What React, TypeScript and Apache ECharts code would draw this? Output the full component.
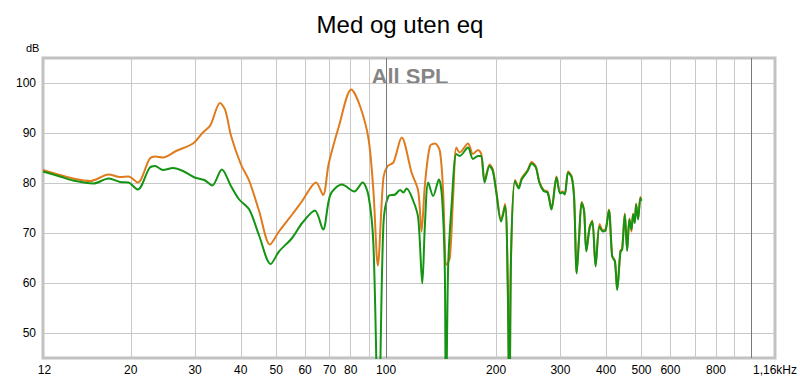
import React, { useEffect, useRef } from 'react';
import * as echarts from 'echarts';

const orangeFreq = [
  11.5, 12.8, 13.9, 15.5, 17.4, 18.7, 19.7, 20.9, 22.5, 23.3, 24.5, 26.6, 29.6, 31.5, 33.0, 35.1, 36.3, 37.6,
  40.0, 42.2, 44.9, 48.1, 50.9, 55.3, 58.9, 64.3, 67.2, 69.6, 74.1, 80.3, 85.0, 89.5, 92.3, 94.9, 98.3, 101,
  104.7, 110.3, 117.4, 122.4, 125.0, 127.7, 131.8, 136.0, 140.3, 143.2, 146.2, 149.4, 152.5, 155.7, 159.0,
  167.5, 172.9, 178.4, 182.1, 186.0, 191.9, 195.9, 200.0, 206.4, 211.6, 215.2, 217.6, 219.7, 225.3, 230.6,
  235.0, 244.0, 250.2, 257.0, 262.6, 269.8, 276.6, 283.6, 292.7, 299.5, 303.9, 308.3, 314.9, 322.1, 327.0,
  332.4, 337.4, 342.9, 348.2, 353.2, 360.6, 366.8, 374.4, 383.9, 392.2, 398.7, 407.2, 415.7, 422.9, 429.0,
  438.0, 442.6, 450.2, 456.8, 463.4, 469.3, 474.3, 479.3, 483.3, 489.4, 496.5, 499.6,
];
const orangeDb = [
  82.6, 81.6, 80.9, 80.4, 81.7, 81.2, 81.3, 80.1, 84.8, 85.3, 85.1, 86.4, 87.9, 90.1, 91.5, 96.0, 94.5, 89.5,
  83.8, 80.4, 74.4, 67.7, 70.3, 73.7, 76.4, 80.1, 77.6, 83.8, 91.1, 98.7, 95.2, 88.8, 78.4, 63.5, 81.1, 83.4,
  84.1, 89.1, 82.1, 78.4, 70.3, 79.7, 87.4, 87.9, 86.4, 78.4, 63.6, 65.0, 77.0, 87.1, 86.1,
  87.9, 85.8, 86.6, 85.8, 80.5, 83.7, 82.7, 78.7, 72.6, 75.8, 60.0, 30.0, 65.2, 80.6, 79.2,
  81.0, 82.6, 84.2, 83.3, 80.3, 78.6, 78.3, 74.9, 81.3, 78.1, 78.3, 77.9, 82.3, 81.3, 77.2,
  62.1, 69.2, 76.2, 74.6, 66.5, 71.2, 72.5, 63.5, 71.8, 70.6, 70.7, 74.7, 65.5, 64.5, 58.8,
  66.5, 66.8, 73.9, 66.6, 72.9, 70.3, 73.9, 72.2, 75.9, 72.9, 77.2, 76.6,
];

const greenFreq = [
  11.5, 12.8, 13.9, 15.8, 17.4, 18.7, 19.7, 20.9, 22.5, 23.3, 24.5, 26.1, 27.8, 29.9, 31.8, 33.4, 35.5, 37.6,
  39.6, 42.2, 44.9, 48.3, 50.9, 55.3, 58.9, 63.8, 67.2, 70.4, 75.7, 81.8, 86.2, 89.5, 92.3, 95.3, 98.3, 101.5,
  105.8, 109.2, 111.5, 113.8, 118.7, 122.4, 125.6, 127.7, 130.4, 134.5, 139.4, 142.3, 144.8, 145.7, 147.8,
  150.9, 155.7, 159.0, 167.5, 172.9, 178.4, 182.1, 186.0, 191.9, 195.9, 200.0, 206.4, 211.6, 215.2, 217.6,
  219.7, 225.3, 230.6, 235.0, 244.0, 250.2, 257.0, 262.6, 269.8, 276.6, 283.6, 292.7, 299.5, 303.9, 308.3,
  314.9, 322.1, 327.0, 332.4, 337.4, 342.9, 348.2, 353.2, 360.6, 366.8, 374.4, 383.9, 392.2, 398.7, 407.2,
  415.7, 422.9, 429.0, 438.0, 442.6, 450.2, 456.8, 463.4, 469.3, 474.3, 479.3, 483.3, 489.4, 496.5, 499.6,
];
const greenDb = [
  82.3, 81.3, 80.5, 79.9, 80.9, 80.2, 80.1, 78.7, 83.0, 83.4, 82.6, 83.0, 82.4, 81.1, 80.6, 79.5, 82.7, 79.4,
  76.7, 74.7, 69.5, 63.8, 66.3, 69.0, 72.0, 74.5, 70.7, 77.7, 79.7, 78.3, 80.1, 77.4, 67.7, 30.0, 71.7, 77.4,
  77.7, 78.6, 78.1, 78.9, 76.4, 73.0, 59.9, 71.7, 80.1, 77.4, 80.7, 77.0, 62.0, 30.0, 63.0,
  75.0, 85.8, 85.4, 87.1, 84.8, 85.4, 85.4, 80.1, 83.4, 82.4, 78.4, 72.3, 75.4, 60.0, 30.0,
  65.0, 80.4, 78.9, 80.7, 82.4, 83.9, 83.1, 80.1, 78.4, 78.1, 74.7, 81.1, 77.9, 78.1, 77.7,
  82.1, 81.1, 77.0, 61.9, 69.0, 76.0, 74.4, 66.3, 71.0, 72.3, 63.3, 71.3, 70.3, 70.5, 74.5,
  65.3, 64.3, 58.6, 66.3, 66.6, 73.7, 66.4, 72.7, 70.7, 73.7, 72.0, 75.7, 72.7, 77.0, 76.4,
];

const xGridFreqs = [20, 30, 40, 50, 60, 70, 80, 90, 100, 200, 300, 400, 500, 600, 700, 800, 900, 1000];
const xMajorFreqs = [100, 1000];
const xLabelFreqs = [11.6, 20, 30, 40, 50, 60, 70, 80, 100, 200, 300, 400, 500, 600, 800, 1160];
const xLabelTexts = ['12', '20', '30', '40', '50', '60', '70', '80', '100', '200', '300', '400', '500', '600', '800', '1,16kHz'];
const yTicks = [50, 60, 70, 80, 90, 100];
const xMin = 11.5;
const xMax = 1160;
const yMin = 45;
const yMax = 105;

const FONT = "'Liberation Sans', Arial, sans-serif";

export default function App() {
  const ref = useRef<HTMLDivElement>(null);
  useEffect(() => {
    if (!ref.current) return;
    const chart = echarts.init(ref.current, null, { renderer: 'svg' });
    const toPts = (fs: number[], ds: number[]) => fs.map((f, i) => [Math.log10(f), ds[i]]);
    const labelFmt = (v: number) => {
      let best = 0;
      for (let i = 0; i < xLabelFreqs.length; i++) {
        if (Math.abs(Math.log10(xLabelFreqs[i]) - v) < Math.abs(Math.log10(xLabelFreqs[best]) - v)) best = i;
      }
      return xLabelTexts[best];
    };
    chart.setOption({
      animation: false,
      backgroundColor: '#ffffff',
      textStyle: { fontFamily: FONT },
      title: {
        text: 'Med og uten eq',
        left: 'center',
        top: 7,
        textStyle: { fontSize: 24, fontWeight: 'normal', color: '#000', fontFamily: FONT },
      },
      grid: {
        left: 43,
        right: 21,
        top: 58,
        bottom: 23,
        show: true,
        borderColor: '#c2c2c2',
        borderWidth: 3,
        backgroundColor: 'transparent',
      },
      xAxis: {
        type: 'value',
        min: Math.log10(xMin),
        max: Math.log10(xMax),
        axisLine: { show: false },
        axisTick: { show: false, customValues: xGridFreqs.map((f) => Math.log10(f)) },
        splitLine: { show: true, lineStyle: { color: '#c8c8c8', width: 1 } },
        axisLabel: {
          customValues: xLabelFreqs.map((f) => Math.log10(f)),
          formatter: labelFmt,
          color: '#000',
          fontSize: 12,
          margin: 6,
          fontFamily: FONT,
        },
      },
      yAxis: {
        type: 'value',
        min: yMin,
        max: yMax,
        axisLine: { show: false },
        axisTick: { show: false, customValues: yTicks },
        splitLine: { show: true, lineStyle: { color: '#c8c8c8', width: 1 } },
        axisLabel: { customValues: yTicks, color: '#000', fontSize: 12, margin: 7, fontFamily: FONT },
      },
      graphic: [
        { type: 'text', left: 26, top: 42, style: { text: 'dB', fontSize: 11, fill: '#000', fontFamily: FONT } },
        {
          type: 'text',
          x: 410,
          y: 76,
          style: {
            text: 'All SPL',
            fontSize: 22,
            fontWeight: 'bold',
            fill: '#858585',
            fontFamily: FONT,
            align: 'center',
            verticalAlign: 'middle',
          },
        },
      ],
      series: [
        {
          type: 'line',
          data: [],
          silent: true,
          markLine: {
            silent: true,
            symbol: 'none',
            label: { show: false },
            lineStyle: { color: '#7a7a7a', width: 1, type: 'solid' },
            data: xMajorFreqs.map((f) => ({ xAxis: Math.log10(f) })),
          },
        },
        {
          name: 'uten eq',
          type: 'line',
          data: toPts(orangeFreq, orangeDb),
          showSymbol: false,
          smooth: 0.3,
          lineStyle: { color: '#e07b1d', width: 2 },
          itemStyle: { color: '#e07b1d' },
        },
        {
          name: 'med eq',
          type: 'line',
          data: toPts(greenFreq, greenDb),
          showSymbol: false,
          smooth: 0.3,
          lineStyle: { color: '#139413', width: 2 },
          itemStyle: { color: '#139413' },
        },
      ],
    });
    return () => chart.dispose();
  }, []);
  return <div ref={ref} style={{ position: 'fixed', left: 0, top: 0, width: 800, height: 381 }} />;
}
